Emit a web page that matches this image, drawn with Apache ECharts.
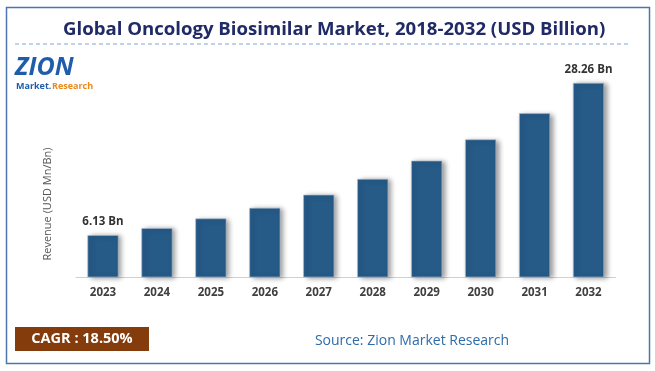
<!DOCTYPE html>
<html><head><meta charset="utf-8">
<script src="https://cdn.jsdelivr.net/npm/echarts@6/dist/echarts.min.js"></script>
<style>html,body{margin:0;padding:0;background:#fff}#c{width:655px;height:371px}</style>
</head><body><div id="c"></div>
<script>
const years = ['2023','2024','2025','2026','2027','2028','2029','2030','2031','2032'];
const revenue = [6.13, 7.15, 8.55, 10.1, 12.0, 14.3, 16.95, 20.05, 23.85, 28.26];
const barLabels = ['6.13 Bn','','','','','','','','','28.26 Bn'];
const titleText = 'Global Oncology Biosimilar Market, 2018-2032 (USD Billion)';
const yAxisName = 'Revenue (USD Mn/Bn)';
const cagrText = 'CAGR : 18.50%';
const sourceText = 'Source: Zion Market Research';

const chart = echarts.init(document.getElementById('c'), null, {renderer:'canvas'});
const F = '"Open Sans", "Noto Sans", sans-serif';
chart.setOption({
  animation:false,
  backgroundColor:'#fff',
  title:{text:titleText, left:58, top:15,
    textStyle:{fontFamily:F, fontSize:18.6, fontWeight:'bold', color:'#1F2A66'}},
  grid:{left:76, right:39.5, top:71, bottom:93.7},
  xAxis:{type:'category', data:years,
    axisLine:{lineStyle:{color:'#d0d0d0', width:1}},
    axisTick:{show:false},
    axisLabel:{fontFamily:F, fontSize:11.5, fontWeight:'bold', color:'#404040', margin:9}},
  yAxis:{type:'value', min:0, max:30, show:true,
    axisLine:{show:false}, axisTick:{show:false}, axisLabel:{show:false}, splitLine:{show:false}},
  series:[{type:'bar', data:revenue, barWidth:31,
    itemStyle:{color:'#265A87', borderColor:'#a8bdd3', borderWidth:0.6,
      shadowColor:'rgba(0,0,0,0.4)', shadowBlur:5, shadowOffsetX:3, shadowOffsetY:1},
    label:{show:true, position:'top', distance:7,
      formatter:p=>barLabels[p.dataIndex],
      fontFamily:F, fontSize:11.5, fontWeight:'bold', color:'#333'}}],
  graphic:[
    {type:'rect', shape:{x:6.5,y:7.5,width:643,height:356}, style:{fill:'none', stroke:'#4A78AE', lineWidth:1.5}, silent:true},
    {type:'line', shape:{x1:15,y1:44,x2:630,y2:44}, style:{stroke:'#7EA6D8', lineWidth:1, lineDash:[4,3]}},
    {type:'text', x:48, y:204, rotation:Math.PI/2, style:{text:yAxisName, fontFamily:F, fontSize:11, fill:'#555', align:'center', verticalAlign:'middle'}},
    {type:'text', left:15, top:55, style:{text:'ZION', fontFamily:F, fontSize:25, fontWeight:'bold', fontStyle:'italic', fill:'#1F5DAA'}},
    {type:'text', left:16, top:82, style:{text:'Market.', fontFamily:F, fontSize:9, fontWeight:'bold', fill:'#1F5DAA'}},
    {type:'text', left:52, top:82, style:{text:'Research', fontFamily:F, fontSize:9, fontWeight:'bold', fill:'#E98A1E'}},
    {type:'rect', shape:{x:15,y:327,width:134,height:24}, style:{fill:'#843C0C'}},
    {type:'text', x:82, y:339, style:{text:cagrText, fontFamily:F, fontSize:14.5, fontWeight:'bold', fill:'#fff', align:'center', verticalAlign:'middle'}},
    {type:'text', x:412, y:341, style:{text:sourceText, fontFamily:F, fontSize:14, fill:'#2E6BA8', align:'center', verticalAlign:'middle'}}
  ]
});
</script></body></html>
